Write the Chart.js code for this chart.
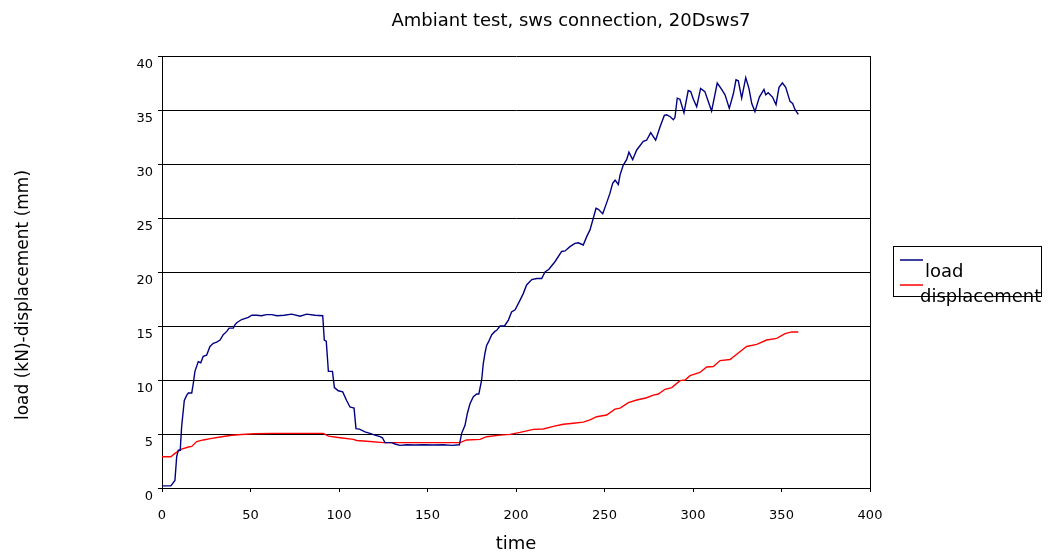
<!DOCTYPE html>
<html>
<head>
<meta charset="utf-8">
<title>Ambiant test, sws connection, 20Dsws7</title>
<script src="https://cdn.jsdelivr.net/npm/chart.js@4.4.0/dist/chart.umd.min.js"></script>
<style>
  html, body { margin: 0; padding: 0; background: #fff; }
  canvas { display: block; }
</style>
</head>
<body>
<canvas id="grafica" width="1053" height="556"></canvas>
<script>
// Values
const chartTitle = "Ambiant test, sws connection, 20Dsws7";
const xTitle = "time";
const yTitle = "load (kN)-displacement (mm)";
const seriesNames = ["load", "displacement"];
const xTicks = [0, 50, 100, 150, 200, 250, 300, 350, 400];
const yTicks = [0, 5, 10, 15, 20, 25, 30, 35, 40];

const loadTime = [
  0, 5, 7.3, 8.3, 9.2, 10.3, 11.1, 12.6, 14, 14.9, 16.8, 17.7, 18.6, 20.5, 21.9, 23.3,
  25.2, 27.1, 29, 30.9, 32.8, 34.6, 36.6, 37.9, 40.3, 41.2, 42.2, 45, 48.8, 50.7, 53.5,
  56.3, 59, 62, 65, 69, 73.3, 78, 81.7, 86.4, 90.8, 91.7, 92.8, 94, 96.3, 97.4, 99.6,
  102.1, 104.3, 106.2, 108.5, 109.6, 111.5, 114.7, 117.5, 120.3, 123.2, 124.5, 126,
  129.8, 132, 134.5, 138.2, 142.9, 147.6, 153.3, 158.9, 163.7, 168, 169.3, 171.2,
  172.5, 174, 175.9, 177.8, 179, 180.6, 181.5, 182.5, 183.4, 184.4, 186.3, 188.1,
  189.1, 191, 193.5, 195.7, 197.5, 199.5, 202.3, 204.1, 206, 208.9, 211.7, 214.5,
  216.4, 218.6, 222, 225.8, 227.7, 230.5, 233.3, 235.2, 238, 240, 241.8, 243.7, 245.2,
  246.5, 249, 251.2, 253.1, 254.6, 256, 257.8, 258.8, 260.6, 262.5, 263.8, 265.9,
  268.2, 271.9, 273.8, 276.1, 278.9, 281.4, 283.8, 285, 287, 288.9, 289.8, 291.1,
  292.6, 294.9, 297.3, 298.7, 300.2, 302.1, 304.3, 306.7, 310.5, 313.7, 316.2, 318.1,
  320.5, 322.8, 324.3, 325.6, 327.5, 329.8, 331.6, 333.2, 335, 337.5, 340.1, 341.1,
  342.5, 344.9, 346.9, 348.6, 350.5, 352.4, 354.8, 356.3, 357.6, 359.5
];
const loadValues = [
  0.2, 0.2, 0.7, 2.9, 3.5, 3.5, 5.7, 8.1, 8.6, 8.8, 8.8, 9.7, 10.8, 11.7, 11.6, 12.2,
  12.3, 13.1, 13.4, 13.5, 13.7, 14.2, 14.5, 14.8, 14.8, 15.1, 15.3, 15.6, 15.8, 16.0, 16.0,
  15.95, 16.05, 16.05, 15.95, 16.0, 16.1, 15.9, 16.1, 16.0, 15.95, 13.7, 13.6, 10.8, 10.8, 9.3, 9.0,
  8.9, 8.1, 7.5, 7.4, 5.5, 5.45, 5.2, 5.06, 4.9, 4.75, 4.65, 4.2,
  4.2, 4.05, 3.95, 4.0, 3.98, 4.0, 3.98, 4.0, 3.95, 4.0, 5.06, 5.8,
  6.9, 7.8, 8.45, 8.7, 8.7, 10.0, 11.5, 12.5, 13.2, 13.5, 14.2, 14.5,
  14.6, 15.0, 15.0, 15.55, 16.3, 16.5, 17.4, 18.0, 18.8, 19.3, 19.4, 19.4,
  20.0, 20.25, 20.95, 21.9, 21.95, 22.35, 22.65, 22.7, 22.5, 23.3, 23.9, 25.0, 25.9,
  25.8, 25.4, 26.4, 27.3, 28.2, 28.5, 28.1, 29.0, 29.9, 30.4, 31.1, 30.4,
  31.3, 32.1, 32.2, 32.9, 32.2, 33.45, 34.5, 34.55, 34.4, 34.1, 34.3, 36.1,
  36.0, 34.75, 36.8, 36.7, 36.0, 35.3, 37.0, 36.7, 34.9, 37.5, 36.9, 36.4,
  35.15, 36.5, 37.8, 37.7, 36.1, 38.0, 37.0, 35.6, 34.85, 36.2, 36.9, 36.4,
  36.6, 36.2, 35.5, 37.1, 37.5, 37.1, 35.8, 35.6, 35.05, 34.6
];

const dispTime = [
  0, 5, 7.3, 11.1, 14.9, 16.8, 19.6, 23.3, 28.1, 33.7, 39.4, 45, 52.5, 62, 71.4, 80,
  91.1, 94, 100.6, 108.1, 110, 117.5, 125, 135, 153.3, 168.4, 172.1, 179.7, 183.4,
  191, 196.6, 202.3, 209.8, 215.4, 221.1, 226.7, 232.4, 238, 241.8, 245.6, 251.2,
  255.9, 258.8, 263.5, 268.2, 273.8, 277.6, 280.4, 284.2, 288, 292.7, 295.5, 298.3,
  303.9, 307.7, 311.5, 315.3, 320.9, 325.6, 330.3, 336, 341.6, 347.3, 352, 355.8, 359.5
];
const dispValues = [
  2.9, 2.9, 3.2, 3.6, 3.8, 3.85, 4.3, 4.45, 4.6, 4.75, 4.88, 4.95, 5.03, 5.06, 5.06, 5.06,
  5.06, 4.8, 4.65, 4.5, 4.4, 4.3, 4.2, 4.2, 4.2, 4.2, 4.45, 4.5, 4.75,
  4.9, 4.97, 5.15, 5.43, 5.46, 5.7, 5.9, 6.0, 6.1, 6.3, 6.6, 6.76,
  7.3, 7.4, 7.9, 8.15, 8.36, 8.6, 8.7, 9.14, 9.3, 9.94, 10.0, 10.4,
  10.7, 11.2, 11.25, 11.8, 11.9, 12.5, 13.1, 13.3, 13.7, 13.85, 14.3, 14.45, 14.45
];

const colores = ["#000080", "#ff0000"];

function puntos(xs, ys) {
  return xs.map((x, i) => ({ x: x, y: ys[i] }));
}

// title, vertical axis title and the boxed legend, drawn the Excel way
const textosPlugin = {
  id: "textos",
  afterDraw(chart) {
    const ctx = chart.ctx;
    ctx.save();
    ctx.fillStyle = "#000";

    ctx.font = "18px 'DejaVu Sans'";
    ctx.textAlign = "center";
    ctx.textBaseline = "alphabetic";
    ctx.fillText(chartTitle, 571, 26);

    ctx.save();
    ctx.translate(28, 295);
    ctx.rotate(-Math.PI / 2);
    ctx.font = "17px 'DejaVu Sans'";
    ctx.fillText(yTitle, 0, 0);
    ctx.restore();

    // legend box
    ctx.strokeStyle = "#000";
    ctx.lineWidth = 1;
    ctx.strokeRect(893.5, 246.5, 148, 50);

    ctx.lineWidth = 1.5;
    ctx.strokeStyle = colores[0];
    ctx.beginPath(); ctx.moveTo(900, 260); ctx.lineTo(923, 260); ctx.stroke();
    ctx.strokeStyle = colores[1];
    ctx.beginPath(); ctx.moveTo(900, 285); ctx.lineTo(923, 285); ctx.stroke();

    ctx.font = "18px 'DejaVu Sans'";
    ctx.textAlign = "left";
    ctx.fillText(seriesNames[0], 925, 277);
    ctx.fillText(seriesNames[1], 920, 302);
    ctx.restore();
  }
};

const ctx = document.getElementById("grafica").getContext("2d");

const chart = new Chart(ctx, {
  type: "line",
  data: {
    datasets: [
      {
        label: seriesNames[0],
        data: puntos(loadTime, loadValues),
        borderColor: colores[0],
        borderWidth: 1.4,
        pointRadius: 0,
        tension: 0
      },
      {
        label: seriesNames[1],
        data: puntos(dispTime, dispValues),
        borderColor: colores[1],
        borderWidth: 1.4,
        pointRadius: 0,
        tension: 0
      }
    ]
  },
  options: {
    responsive: false,
    devicePixelRatio: 1,
    animation: false,
    layout: { padding: { top: 56, right: 183, bottom: 0, left: 0 } },
    plugins: {
      legend: { display: false },
      title: { display: false },
      tooltip: { enabled: false }
    },
    scales: {
      x: {
        type: "linear",
        min: xTicks[0],
        max: xTicks[xTicks.length - 1],
        afterBuildTicks: s => { s.ticks = xTicks.map(v => ({ value: v })); },
        afterFit: s => { s.height = 68; },
        border: { color: "#000", width: 1 },
        grid: {
          color: c => (c.tick && c.tick.value === 400 ? "#000" : "rgba(0,0,0,0)"),
          tickColor: "#000",
          tickLength: 4
        },
        ticks: {
          color: "#000",
          font: { family: "'DejaVu Sans'", size: 13 },
          padding: 16,
          maxRotation: 0
        },
        title: {
          display: true,
          text: xTitle,
          color: "#000",
          font: { family: "'DejaVu Sans'", size: 18 },
          padding: { top: 0, bottom: 1 }
        }
      },
      y: {
        min: yTicks[0],
        max: yTicks[yTicks.length - 1],
        afterBuildTicks: s => { s.ticks = yTicks.map(v => ({ value: v })); },
        afterFit: s => { s.width = 162; },
        border: { color: "#000", width: 1 },
        grid: {
          color: "#000",
          tickColor: "#000",
          tickLength: 4,
          lineWidth: 1
        },
        ticks: {
          color: "#000",
          font: { family: "'DejaVu Sans'", size: 13 },
          padding: 5,
          labelOffset: 9
        }
      }
    }
  },
  plugins: [textosPlugin]
});
</script>
</body>
</html>
